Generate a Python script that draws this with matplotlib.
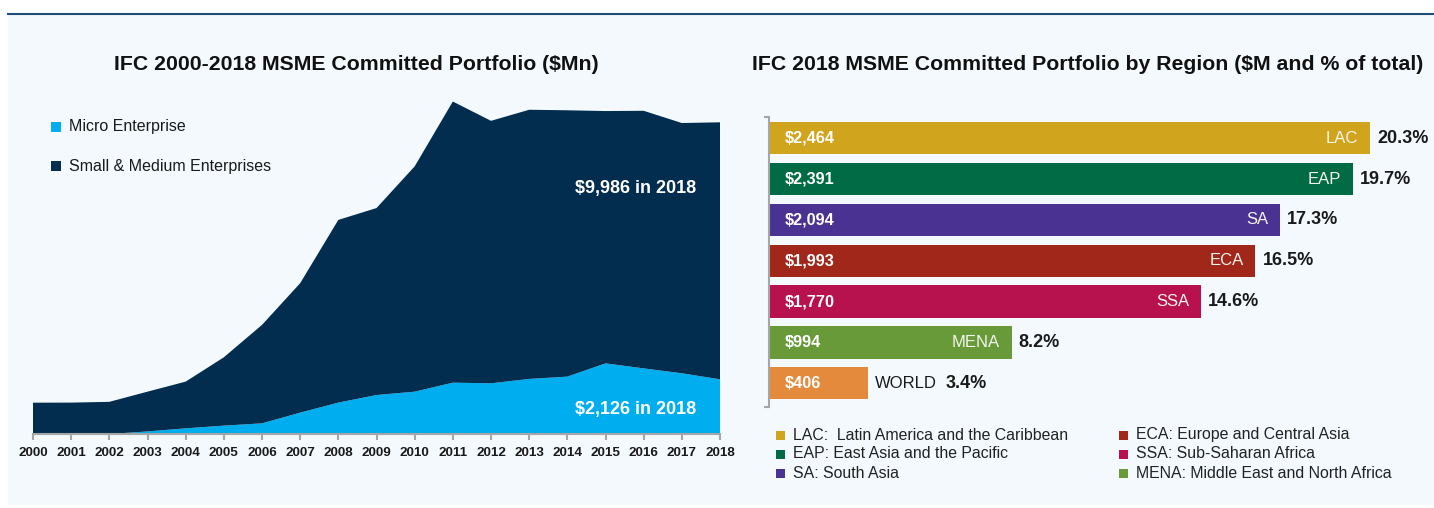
import matplotlib.pyplot as plt
from matplotlib.patches import Rectangle
from matplotlib.lines import Line2D

plt.rcParams['font.family'] = ['Liberation Sans', 'DejaVu Sans']

# left chart data ($Mn)
years = list(range(2000, 2019))
micro = [0, 0, 0, 100, 220, 325, 415, 830, 1220, 1515, 1645, 1995, 1970, 2140, 2230, 2745, 2550, 2360, 2126]
sme = [1217, 1220, 1250, 1545, 1815, 2655, 3825, 5030, 7100, 7265, 8755, 10925, 10200, 10460, 10350, 9805, 10010, 9725, 9986]

# right chart data
regions = ['LAC', 'EAP', 'SA', 'ECA', 'SSA', 'MENA', 'WORLD']
amounts = [2464, 2391, 2094, 1993, 1770, 994, 406]
shares = [20.3, 19.7, 17.3, 16.5, 14.6, 8.2, 3.4]
bar_colors = ['#D0A41C', '#006B45', '#4A3292', '#A0271A', '#B8124E', '#689A3A', '#E48A3C']
region_names = ['LAC:  Latin America and the Caribbean', 'EAP: East Asia and the Pacific', 'SA: South Asia',
                'ECA: Europe and Central Asia', 'SSA: Sub-Saharan Africa', 'MENA: Middle East and North Africa']

navy = '#022D4F'
light = '#00AEEF'
panel = '#F3F9FD'
grey = '#A6A6A6'
txt = '#1A1A1A'

W, H = 1434, 508
fig = plt.figure(figsize=(W / 100, H / 100), dpi=100, facecolor='white')


def fx(x):
    return x / W


def fy(y):
    return 1 - y / H


# background panel and top rule
fig.patches.append(Rectangle((fx(8), fy(505)), fx(1434) - fx(8), fy(15) - fy(505),
                             transform=fig.transFigure, facecolor=panel, edgecolor='none', zorder=-5))
fig.add_artist(Line2D([fx(8), 1], [fy(14), fy(14)], transform=fig.transFigure, color='#1F4E7A', lw=1.5))

# ---- left: stacked area ----
ax1 = fig.add_axes([fx(33), fy(434), (720 - 33) / W, (434 - 90) / H])
ax1.set_facecolor('none')
ax1.stackplot(years, micro, sme, colors=[light, navy], linewidth=0)
ax1.set_xlim(2000, 2018)
ax1.set_ylim(0, 13368)
for s in ['top', 'right', 'left']:
    ax1.spines[s].set_visible(False)
ax1.spines['bottom'].set_color(grey)
ax1.spines['bottom'].set_linewidth(1.5)
ax1.set_yticks([])
ax1.set_xticks(years)
ax1.set_xticklabels([str(y) for y in years], fontsize=9.7, fontweight='bold', color=txt)
ax1.tick_params(axis='x', length=4, width=1.5, color=grey, pad=5)

ax1.text(2017.37, 9530, '$9,986 in 2018', ha='right', va='center', color='white', fontsize=13, fontweight='bold')
ax1.text(2017.37, 970, '$2,126 in 2018', ha='right', va='center', color='white', fontsize=13, fontweight='bold')

for yc, col, lab in [(127, light, 'Micro Enterprise'), (166, navy, 'Small & Medium Enterprises')]:
    fig.patches.append(Rectangle((fx(51), fy(yc + 5)), 10 / W, 10 / H, transform=fig.transFigure,
                                 facecolor=col, edgecolor='none'))
    fig.text(fx(69), fy(yc), lab, ha='left', va='center', fontsize=11.5, color=txt)

fig.text(fx(356), fy(65), 'IFC 2000-2018 MSME Committed Portfolio ($Mn)', ha='center', va='center',
         fontsize=15.3, fontweight='bold', color='#111111')

# ---- right: horizontal bars ----
ax2 = fig.add_axes([fx(769), fy(407), 659 / W, 290 / H])
ax2.set_facecolor('none')
pos = list(range(len(regions)))
ax2.barh(pos, amounts, height=0.79, color=bar_colors)
ax2.set_xlim(0, 2700)
ax2.set_ylim(6.58, -0.52)
for s in ['top', 'right', 'bottom']:
    ax2.spines[s].set_visible(False)
ax2.spines['left'].set_color(grey)
ax2.spines['left'].set_linewidth(1.5)
ax2.set_xticks([])
ax2.set_yticks([-0.52, 6.58])
ax2.set_yticklabels(['', ''])
ax2.tick_params(axis='y', length=3.5, width=1.5, color=grey)

for i, (reg, amt, sh) in enumerate(zip(regions, amounts, shares)):
    ax2.annotate(f'${amt:,}', xy=(0, i), xytext=(16, 0), textcoords='offset pixels',
                 ha='left', va='center', color='white', fontsize=11.7, fontweight='bold')
    if reg == 'WORLD':
        ax2.annotate(reg, xy=(amt, i), xytext=(7, 0), textcoords='offset pixels',
                     ha='left', va='center', color=txt, fontsize=12)
        ax2.annotate(f'{sh}%', xy=(amt, i), xytext=(78, 0), textcoords='offset pixels',
                     ha='left', va='center', color=txt, fontsize=13, fontweight='bold', annotation_clip=False)
    else:
        ax2.annotate(reg, xy=(amt, i), xytext=(-12, 0), textcoords='offset pixels',
                     ha='right', va='center', color='#F4F4EC', fontsize=12)
        ax2.annotate(f'{sh}%', xy=(amt, i), xytext=(7, 0), textcoords='offset pixels',
                     ha='left', va='center', color=txt, fontsize=13, fontweight='bold', annotation_clip=False)

# region legend, two columns
for k, (name, col) in enumerate(zip(region_names, bar_colors[:6])):
    xs = 776 if k < 3 else 1119
    yc = [435, 454, 473][k % 3]
    fig.patches.append(Rectangle((fx(xs), fy(yc + 4.5)), 9 / W, 9 / H, transform=fig.transFigure,
                                 facecolor=col, edgecolor='none'))
    fig.text(fx(xs + 17), fy(yc), name, ha='left', va='center', fontsize=11.4, color='#222222')

fig.text(fx(1088), fy(65), 'IFC 2018 MSME Committed Portfolio by Region ($M and % of total)', ha='center',
         va='center', fontsize=15.3, fontweight='bold', color='#111111')

fig.savefig('out.png', dpi=100, facecolor='white')
